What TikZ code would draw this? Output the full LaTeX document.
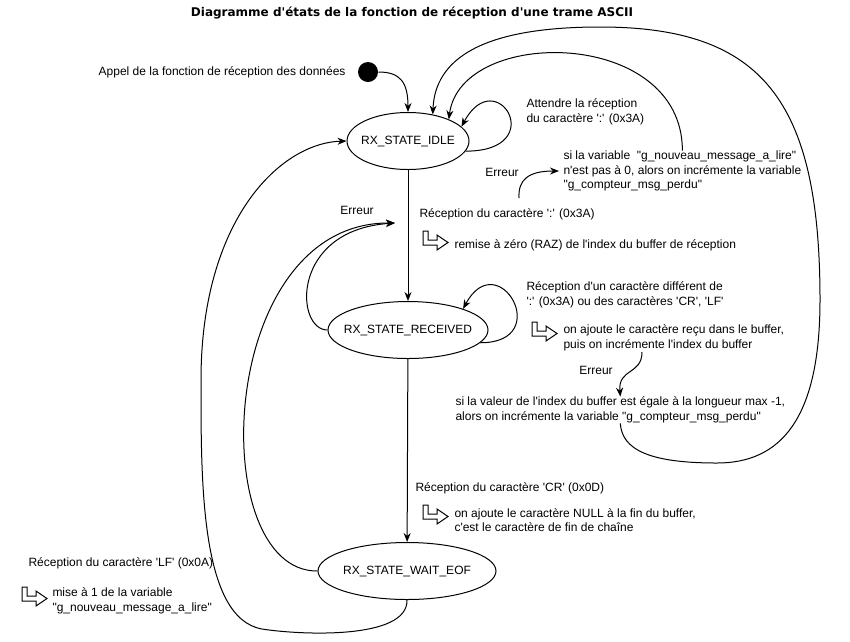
\documentclass[tikz,border=0pt]{standalone}
\usepackage{fontspec}
\newfontfamily\arial{Liberation Sans}
\newfontfamily\verdana{DejaVu Sans}
\usetikzlibrary{shapes.geometric,arrows.meta}

\begin{document}
\begin{tikzpicture}[x=1pt, y=-1pt, line width=1pt, >={Stealth[length=9pt,width=7pt]}, font=\arial\fontsize{12}{14.4}\selectfont]
	\tikzstyle{etat}=[ellipse, draw=black, minimum height=57pt]
	\tikzstyle{debut}=[circle, fill=black, minimum size=20pt, inner sep=0pt]
	\tikzstyle{texte}=[anchor=west, align=left, inner sep=0pt]
	\tikzset{renvoi/.pic={\draw (0,0) -- (5,0) -- (5,9) -- (14,9) -- (14,4) -- (25,11.5) -- (14,19) -- (14,14) -- (0,14) -- cycle;}}
	
	\useasboundingbox (0,0) rectangle (850,641);
	
	% Titre
	\node at (412, 13) [font=\verdana\bfseries\fontsize{12}{14}\selectfont] (titre) {Diagramme d'états de la fonction de réception d'une trame ASCII};
	
	% Etats
	\node at (368, 72) [debut] (debut) {};
	\node at (408, 141) [etat, minimum width=122pt, label=center:{RX\_STATE\_IDLE}] (idle) {};
	\node at (408, 330) [etat, minimum width=160pt, label=center:{RX\_STATE\_RECEIVED}] (received) {};
	\node at (407, 571) [etat, minimum width=178pt, label=center:{RX\_STATE\_WAIT\_EOF}] (waiteof) {};
	
	% Textes
	\node at (346, 72) [anchor=east, inner sep=0pt] (appel) {Appel de la fonction de réception des données};
	\node at (526, 112) [texte] (attendre) {Attendre la réception\\du caractère ':' (0x3A)};
	\node at (502, 172) (erreurA) {Erreur};
	\node at (563, 171) [texte] (sivar) {si la variable \ "g\_nouveau\_message\_a\_lire"\\n'est pas à 0, alors on incrémente la variable\\"g\_compteur\_msg\_perdu"};
	\node at (357, 210) (erreurC) {Erreur};
	\node at (419, 214) [texte] (recepA) {Réception du caractère ':' (0x3A)};
	\pic at (423, 231) {renvoi};
	\node at (454, 245) [texte] (raz) {remise à zéro (RAZ) de l'index du buffer de réception};
	\node at (526, 295) [texte] (recepB) {Réception d'un caractère différent de\\':' (0x3A) ou des caractères 'CR', 'LF'};
	\pic at (532, 322) {renvoi};
	\node at (563, 338) [texte] (ajoute) {on ajoute le caractère reçu dans le buffer,\\puis on incrémente l'index du buffer};
	\node at (596, 370) (erreurB) {Erreur};
	\node at (455, 410) [texte] (valeur) {si la valeur de l'index du buffer est égale à la longueur max -1,\\alors on incrémente la variable "g\_compteur\_msg\_perdu"};
	\node at (415, 488) [texte] (recepC) {Réception du caractère 'CR' (0x0D)};
	\pic at (423, 505) {renvoi};
	\node at (454, 520) [texte] (nul) {on ajoute le caractère NULL à la fin du buffer,\\c'est le caractère de fin de chaîne};
	\node at (28, 563) [texte] (recepD) {Réception du caractère 'LF' (0x0A)};
	\pic at (22, 587) {renvoi};
	\node at (52, 601) [texte] (miseun) {mise à 1 de la variable\\"g\_nouveau\_message\_a\_lire"};
	
	\coordinate (errA) at (519, 198);
	\coordinate (errB) at (642, 352);
	\coordinate (errC) at (395, 223);
	
	% Transitions
	\draw [->] (debut) .. controls (400, 72) and (408, 82) .. (idle.north);
	\draw [->] (idle.-10) .. controls +(85, 0) and +(35, -65) .. (idle.15);
	\draw [->] (idle) -- (received);
	\draw [->] (received.-10) .. controls +(75, 0) and +(35, -65) .. (received.21);
	\draw [->] (received) -- (waiteof);
	\draw [->] (waiteof.south) .. controls (408, 640) and (300, 635) .. (262, 629) .. controls (200, 618) and (201, 480) .. (201, 380) .. controls (201, 220) and (280, 143) .. (idle.west);
	
	% Erreurs
	\draw [->] (errA) .. controls (518, 180) and (528, 171) .. ([xshift=-4pt]sivar.west);
	\draw [->] (sivar.north) .. controls +(0, -123) and +(12, -93) .. (idle.28);
	\draw [->] (errB) .. controls (642, 375) and (618, 368) .. (valeur.north);
	\draw [->] (valeur.south) .. controls (622, 450) and (650, 463) .. (717, 463) .. controls (780, 463) and (820, 420) .. (820, 300) .. controls (820, 100) and (762, 27) .. (600, 27) .. controls (480, 27) and (435, 60) .. (idle.47);
	\draw [->] (received.west) .. controls (295, 330) and (290, 230) .. (errC);
	\draw [->] (waiteof.west) .. controls (205, 572) and (215, 222) .. (errC);
\end{tikzpicture}
\end{document}
